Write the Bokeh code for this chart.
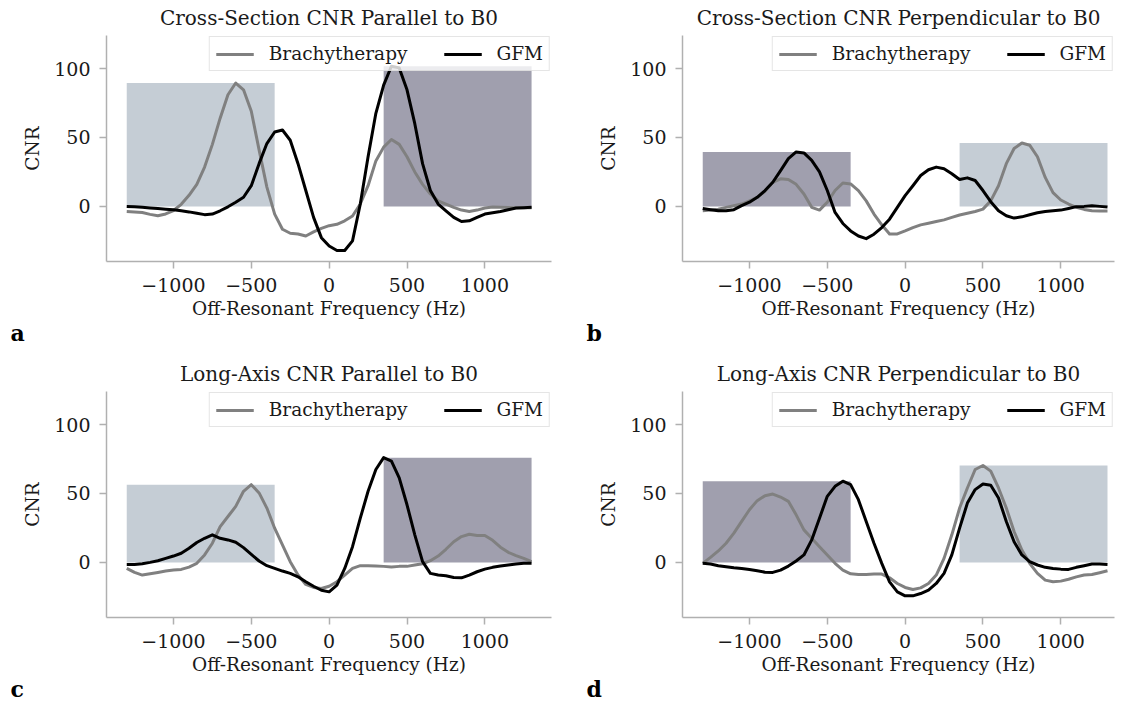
from bokeh.plotting import figure
from bokeh.layouts import gridplot
from bokeh.models import Legend, LegendItem, Title, FixedTicker, ColumnDataSource
from bokeh.embed import file_html
from bokeh.resources import INLINE

FONT = "DejaVu Serif"

# ---------------- data ----------------
freq = list(range(-1300, 1301, 50))  # Hz

a_brachy = [-3.7, -4.0, -4.5, -5.8, -6.8, -5.5, -3.0, 1.5, 8, 16,
            28.5, 45, 64, 81, 89.5, 84.6, 69, 41, 14, -5.6,
            -16.6, -19.5, -20, -21.5, -18.5, -16, -14, -13, -10.5, -7,
            1.7, 15, 33, 43, 48.5, 45, 36, 25, 16, 9,
            4, 1.7, -0.7, -2.7, -3.7, -2.7, -1.2, -0.5, -0.7, -0.8,
            -1, -1, -1]
a_gfm = [0, -0.3, -0.7, -1.1, -1.5, -2.0, -2.5, -3.2, -4, -5,
         -6, -5.6, -3.2, -0.3, 3, 6.6, 15, 31, 45.6, 54,
         55.4, 48, 31, 11.5, -8, -22.7, -28.8, -32, -32, -25,
         1.7, 36, 67.5, 88, 101.7, 100.5, 84.6, 60, 31, 11.5,
         1.7, -3.2, -8, -11, -10.5, -8, -5.6, -4.6, -3.7, -2.4,
         -1.2, -1, -0.7]

b_brachy = [-3.2, -2.7, -2, -0.7, 0.5, 1.7, 4, 6.6, 11, 17.5,
            20, 19.5, 16, 9, -0.7, -2.7, 3, 11.5, 17, 16.3,
            11.5, 4, -5.6, -13.4, -20, -20, -17.8, -15.4, -13.4, -12.2,
            -11, -9.8, -8, -6.3, -5, -3.7, -2, 4, 15, 31,
            42, 46, 44.4, 36, 21, 10, 4.6, 1.7, -0.7, -2.2,
            -3.2, -3.4, -3.4]
b_gfm = [-1.5, -2.4, -3.2, -3.2, -2.4, 0.5, 3, 6.6, 11.5, 17.5,
         26, 34.6, 39.5, 38.8, 33.4, 25, 11.5, -4.4, -12.4, -17.8,
         -21.5, -23.4, -20.2, -15.4, -9.3, -0.7, 7.8, 15, 22.4, 26.6,
         28.5, 27.3, 23.7, 19.5, 20.7, 18.8, 11.5, 3.4, -3.2, -6.8,
         -8.5, -7.6, -6.1, -4.6, -3.7, -3.2, -2.7, -1.5, -0.2, 0,
         0.5, 0, -0.5]

c_brachy = [-4.4, -7.3, -9.2, -8.3, -7.3, -6.3, -5.6, -5.1, -3.4, -0.7,
            5.4, 13.9, 26, 33.3, 40.6, 51.6, 56.4, 50.4, 39.4, 24.8,
            12.7, 0.5, -9.2, -16, -18.2, -19, -17.3, -14, -9.2, -4.4,
            -2.4, -2.4, -2.7, -2.9, -3.4, -2.9, -2.9, -1.9, -1, 1.2,
            4.6, 9.5, 15, 18.7, 20.4, 19.5, 19.5, 16, 11, 7.3,
            4.9, 2.9, 0.5]
c_gfm = [-1.5, -1.5, -1, 0, 1.2, 2.9, 4.6, 6.6, 10.2, 14.4,
         17.5, 20, 17.5, 16.3, 14.6, 10.7, 5.8, 1, -2.4, -4.4,
         -6.3, -8, -10.5, -14.1, -17.3, -20.2, -21.4, -16.5, -4.4, 11.4,
         32.1, 51.6, 67.4, 76, 73.5, 61.3, 41.8, 20, 0.5, -8,
         -9.2, -9.7, -11, -11.2, -9.2, -6.8, -4.9, -3.6, -2.7, -1.9,
         -1.2, -0.7, -0.7]

d_brachy = [-0.7, 3.6, 8.3, 13.9, 21.2, 29.7, 38.2, 44.8, 48.4, 49.6,
            47.4, 44.3, 34.5, 23.6, 17.5, 11.4, 5.4, -0.7, -5.6, -8.3,
            -8.8, -8.8, -8.5, -8.5, -11.2, -15.3, -18.2, -19.7, -18.5, -15.3,
            -9.2, 2.9, 20, 39.4, 54, 67.4, 70.3, 66.2, 54, 39.4,
            22.4, 9, -0.7, -8, -12.9, -14.1, -13.6, -12.2, -10.5, -9.2,
            -8.8, -7.5, -6.1]
d_gfm = [-0.7, -1.2, -2.4, -3.2, -3.9, -4.4, -5.1, -6.1, -7.1, -7.3,
         -5.6, -2.7, 1, 5.4, 16.3, 32.1, 47.9, 55.2, 58.9, 56.4,
         45.5, 29.7, 13.9, -0.7, -14.1, -21.4, -24.3, -24.3, -22.6, -20.2,
         -15.3, -8, 5.4, 24.8, 43, 52.8, 56.9, 56, 46.7, 29.7,
         15, 5.4, 0.5, -1.9, -3.6, -4.4, -4.9, -5.1, -3.6, -2.4,
         -1.2, -1.2, -1.5]

titles = ["Cross-Section CNR Parallel to B0",
          "Cross-Section CNR Perpendicular to B0",
          "Long-Axis CNR Parallel to B0",
          "Long-Axis CNR Perpendicular to B0"]
letters = ["a", "b", "c", "d"]
series_names = ["Brachytherapy", "GFM"]
regions = [(-1300, -350), (350, 1300)]   # shaded frequency bands (Hz)
x_ticks = [-1000, -500, 0, 500, 1000]
x_tick_labels = ["\u22121000", "\u2212500", "0", "500", "1000"]
y_ticks = [0, 50, 100]

# ---------------- style ----------------
BRACHY_COLOR = "#808080"
GFM_COLOR = "#000000"
BAND_BRACHY = "#c5cdd5"
BAND_GFM = "#a09fae"
SPINE = "#b0b0b0"
TEXT = "#1a1a1a"


def make_panel(title, letter, brachy, gfm, left_border, frame_w, x_end,
               right_border, top_border, bottom_border):
    p = figure(frame_width=frame_w, frame_height=226,
               x_range=(-1430, x_end), y_range=(-40, 124),
               min_border_left=left_border, min_border_right=right_border,
               min_border_top=top_border, min_border_bottom=bottom_border,
               output_backend="svg", toolbar_location=None, title=title)
    p.title.text_font = FONT
    p.title.text_font_size = "20px"
    p.title.text_font_style = "normal"
    p.title.text_color = TEXT
    p.title.align = "center"
    p.title.vertical_align = "top"
    p.title.standoff = 8
    p.outline_line_color = None
    p.xgrid.visible = False
    p.ygrid.visible = False
    p.background_fill_color = "white"
    p.border_fill_color = "white"

    # shaded bands: height = larger peak in the band, colour = winning series
    lefts, rights, tops, colors = [], [], [], []
    for lo, hi in regions:
        bm = max(v for f, v in zip(freq, brachy) if lo <= f <= hi)
        gm = max(v for f, v in zip(freq, gfm) if lo <= f <= hi)
        lefts.append(lo)
        rights.append(hi)
        tops.append(max(bm, gm))
        colors.append(BAND_BRACHY if bm >= gm else BAND_GFM)
    src = ColumnDataSource(dict(left=lefts, right=rights, top=tops,
                                bottom=[0] * len(lefts), color=colors))
    p.quad(left="left", right="right", top="top", bottom="bottom",
           fill_color="color", line_color=None, source=src)

    rb = p.line(freq, brachy, line_color=BRACHY_COLOR, line_width=3,
                line_join="round")
    rg = p.line(freq, gfm, line_color=GFM_COLOR, line_width=3,
                line_join="round")

    legend = Legend(items=[LegendItem(label=series_names[0], renderers=[rb]),
                           LegendItem(label=series_names[1], renderers=[rg])],
                    location="top_right", orientation="horizontal")
    legend.label_text_font = FONT
    legend.label_text_font_size = "18.5px"
    legend.label_text_color = TEXT
    legend.glyph_width = 38
    legend.glyph_height = 20
    legend.label_standoff = 15
    legend.spacing = 36
    legend.padding = 6
    legend.margin = 1
    legend.border_line_color = "#cccccc"
    legend.border_line_width = 1
    legend.background_fill_color = "white"
    legend.background_fill_alpha = 0.8
    p.add_layout(legend)

    for ax in (p.xaxis[0], p.yaxis[0]):
        ax.axis_line_color = SPINE
        ax.axis_line_width = 1.5
        ax.major_tick_line_color = SPINE
        ax.major_tick_line_width = 1.5
        ax.major_tick_out = 7
        ax.major_tick_in = 0
        ax.minor_tick_line_color = None
        ax.major_label_text_font = FONT
        ax.major_label_text_font_size = "19px"
        ax.major_label_text_color = TEXT
        ax.axis_label_text_font = FONT
        ax.axis_label_text_font_size = "18.5px"
        ax.axis_label_text_font_style = "normal"
        ax.axis_label_text_color = TEXT

    p.xaxis.ticker = FixedTicker(ticks=x_ticks)
    p.xaxis.major_label_overrides = dict(zip(x_ticks, x_tick_labels))
    p.xaxis.major_label_standoff = 9
    p.xaxis.axis_label = "Off-Resonant Frequency (Hz)"
    p.xaxis.axis_label_standoff = 3
    p.yaxis.ticker = FixedTicker(ticks=y_ticks)
    p.yaxis.major_label_standoff = 9
    p.yaxis.axis_label = "CNR"
    p.yaxis.axis_label_standoff = 8

    letter_title = Title(text=letter, align="left", offset=-96,
                         vertical_align="top",
                         text_font=FONT, text_font_size="22px",
                         text_font_style="bold", text_color="#000000",
                         standoff=-4)
    p.add_layout(letter_title, "below")
    return p


pa = make_panel(titles[0], letters[0], a_brachy, a_gfm, 106, 445, 1428, 18, 35, 94)
pb = make_panel(titles[1], letters[1], b_brachy, b_gfm, 113, 432, 1345, 2, 35, 94)
pc = make_panel(titles[2], letters[2], c_brachy, c_gfm, 106, 445, 1428, 18, 36, 85)
pd = make_panel(titles[3], letters[3], d_brachy, d_gfm, 113, 432, 1345, 2, 36, 85)

grid = gridplot([[pa, pb], [pc, pd]], toolbar_location=None)

with open("out.html", "w") as f:
    f.write(file_html(grid, INLINE))
